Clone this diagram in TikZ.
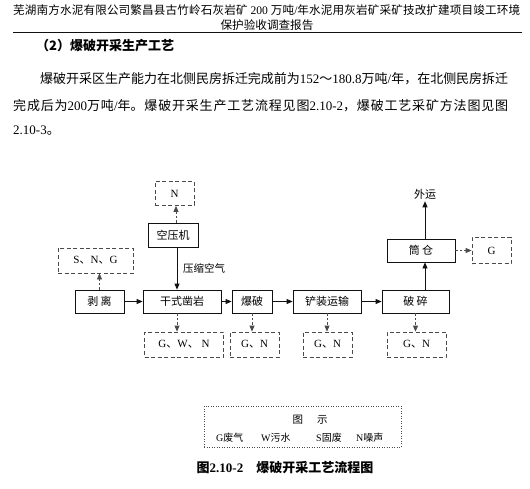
\documentclass[tikz,border=0pt]{standalone}
\usepackage{fontspec}
\setmainfont{Liberation Serif}
\newfontfamily\cjk{Noto Sans CJK SC}
\usetikzlibrary{arrows.meta, positioning}
\XeTeXlinebreaklocale "zh"
\XeTeXlinebreakskip = 0pt plus 4pt minus 1pt
\definecolor{ink}    {HTML}{111111}
\definecolor{inksoft}{HTML}{4A4A4A}
\tikzset{
  proc/.style = {draw=ink, line width=0.8pt, minimum height=24pt,
                 inner sep=0pt, font=\cjk\fontsize{11}{13}\selectfont},
  emis/.style = {draw=inksoft, line width=0.8pt, dash pattern=on 4pt off 2.5pt,
                 minimum height=25pt, inner sep=0pt, font=\fontsize{11}{13}\selectfont},
  arr/.style  = {-{Triangle[length=6pt,width=5pt]}, line width=0.8pt, ink},
  darr/.style = {arr, inksoft, dash pattern=on 2.5pt off 2pt},
  body/.style = {inner sep=0pt, anchor=west, font=\fontsize{13}{15}\selectfont},
  head/.style = {inner sep=0pt, font=\fontsize{11.6}{14}\selectfont},
  keytxt/.style = {inner sep=0pt, anchor=west, font=\fontsize{10}{12}\selectfont},
}

\begin{document}
\begin{tikzpicture}[x=1pt, y=-1pt]
  \useasboundingbox[fill=white] (0,0) rectangle (530,489);

  % page header
  \node[head, anchor=west, text width=507pt, align=justify] (hdr1) at (13,10)
    {\noindent\parfillskip=0pt {\cjk 芜湖南方水泥有限公司繁昌县古竹岭石灰岩矿} 200 {\cjk 万吨}/{\cjk 年水泥用灰岩矿采矿技改扩建项目竣工环境}\par};
  \node[head] (hdr2) at (267,25) {\cjk 保护验收调查报告};
  \draw[ink, line width=0.9pt] (13,32.5) -- (522,32.5);

  % section text
  \node[body, font=\cjk\bfseries\fontsize{13}{15}\selectfont] (sec) at (36,46)
    {（2）爆破开采生产工艺};
  \node[body, text width=468pt, align=justify] (par1) at (40,79)
    {\noindent\parfillskip=0pt {\cjk 爆破开采区生产能力在北侧民房拆迁完成前为}152{\cjk ～}180.8{\cjk 万吨}/{\cjk 年，在北侧民房拆迁}\par};
  \node[body, text width=495pt, align=justify] (par2) at (13,106)
    {\noindent\parfillskip=0pt {\cjk 完成后为}200{\cjk 万吨}/{\cjk 年。爆破开采生产工艺流程见图}2.10-2{\cjk ，爆破工艺采矿方法图见图}\par};
  \node[body] (par3) at (13,131) {2.10-3{\cjk 。}};

  % process chain
  \node[emis, minimum width=39pt, minimum height=24pt] (nTop) at (174.5,193.5) {N};
  \node[proc, minimum width=50pt] (kyj) at (173,235) {空压机};
  \node[emis, minimum width=75pt] (sng) at (95.5,260.5) {S{\cjk 、}N{\cjk 、}G};
  \node[proc, minimum width=49pt, minimum height=23pt] (bl) at (99.5,301.5) {剥\ 离};
  \node[proc, minimum width=78pt, minimum height=23pt] (zy) at (182,301.5) {干式凿岩};
  \node[proc, minimum width=40pt, minimum height=23pt] (bp) at (252,301.5) {爆破};
  \node[proc, minimum width=68pt, minimum height=23pt] (cz) at (327,301.5) {铲装运输};
  \node[proc, minimum width=67pt, minimum height=23pt] (ps) at (415.5,301.5) {破\ 碎};
  \node[proc, minimum width=68pt, minimum height=23pt] (tc) at (421,250.5) {筒\ 仓};
  \node[emis, minimum width=39pt, minimum height=26pt] (gtc) at (491.5,250.5) {G};
  \node[inner sep=2pt, font=\cjk\fontsize{11}{13}\selectfont] (wy) at (425,194) {外运};
  \node[inner sep=0pt, anchor=west, font=\cjk\fontsize{10.5}{12}\selectfont] (air) at (183,268) {压缩空气};

  \node[emis, minimum width=79pt] (gwn) at (184,344.5) {G{\cjk 、}W{\cjk 、}\ N};
  \node[emis, minimum width=49pt] (gnb) at (254.5,344.5) {G{\cjk 、}N};
  \node[emis, minimum width=49pt] (gnc) at (327.5,344.5) {G{\cjk 、}N};
  \node[emis, minimum width=59pt] (gnp) at (416.5,344.5) {G{\cjk 、}N};

  \draw[darr] ([xshift=3pt]kyj.north) -- ([xshift=3pt]kyj.north |- nTop.south);
  \draw[arr]  ([xshift=4pt]kyj.south) -- ([xshift=4pt]kyj.south |- zy.north);
  \draw[darr] (bl.north) -- (bl.north |- sng.south);
  \draw[arr] (bl) -- (zy);
  \draw[arr] (zy) -- (bp);
  \draw[arr] (bp) -- (cz);
  \draw[arr] (cz) -- (ps);
  \draw[darr] ([xshift=-5pt]zy.south) -- ([xshift=-5pt]zy.south |- gwn.north);
  \draw[darr] (bp.south) -- (bp.south |- gnb.north);
  \draw[darr] (cz.south) -- (cz.south |- gnc.north);
  \draw[darr] (ps.south) -- (ps.south |- gnp.north);
  \draw[arr]  ([xshift=9.5pt]ps.north) -- ([xshift=9.5pt]ps.north |- tc.south);
  \draw[arr]  ([xshift=4pt]tc.north) -- ([xshift=4pt]tc.north |- wy.south);
  \draw[darr] (tc) -- (gtc);

  % legend
  \node[draw=inksoft, line width=0.7pt, dash pattern=on 1pt off 1.5pt,
        minimum width=197pt, minimum height=41pt, inner sep=0pt] (key) at (302.5,426.5) {};
  \node[inner sep=0pt, font=\cjk\fontsize{10.5}{12}\selectfont] (keyttl) at (310,420) {图\hspace{14pt}示};
  \node[keytxt] (keyG) at (216,438) {G{\cjk 废气}};
  \node[keytxt] (keyW) at (261,438) {W{\cjk 污水}};
  \node[keytxt] (keyS) at (316,438) {S{\cjk 固废}};
  \node[keytxt] (keyN) at (356,438) {N{\cjk 噪声}};

  % caption
  \node[inner sep=0pt, font=\bfseries\fontsize{13}{15}\selectfont] (cap) at (285,468)
    {{\cjk 图}2.10-2\hspace{13pt}{\cjk 爆破开采工艺流程图}};
\end{tikzpicture}
\end{document}
